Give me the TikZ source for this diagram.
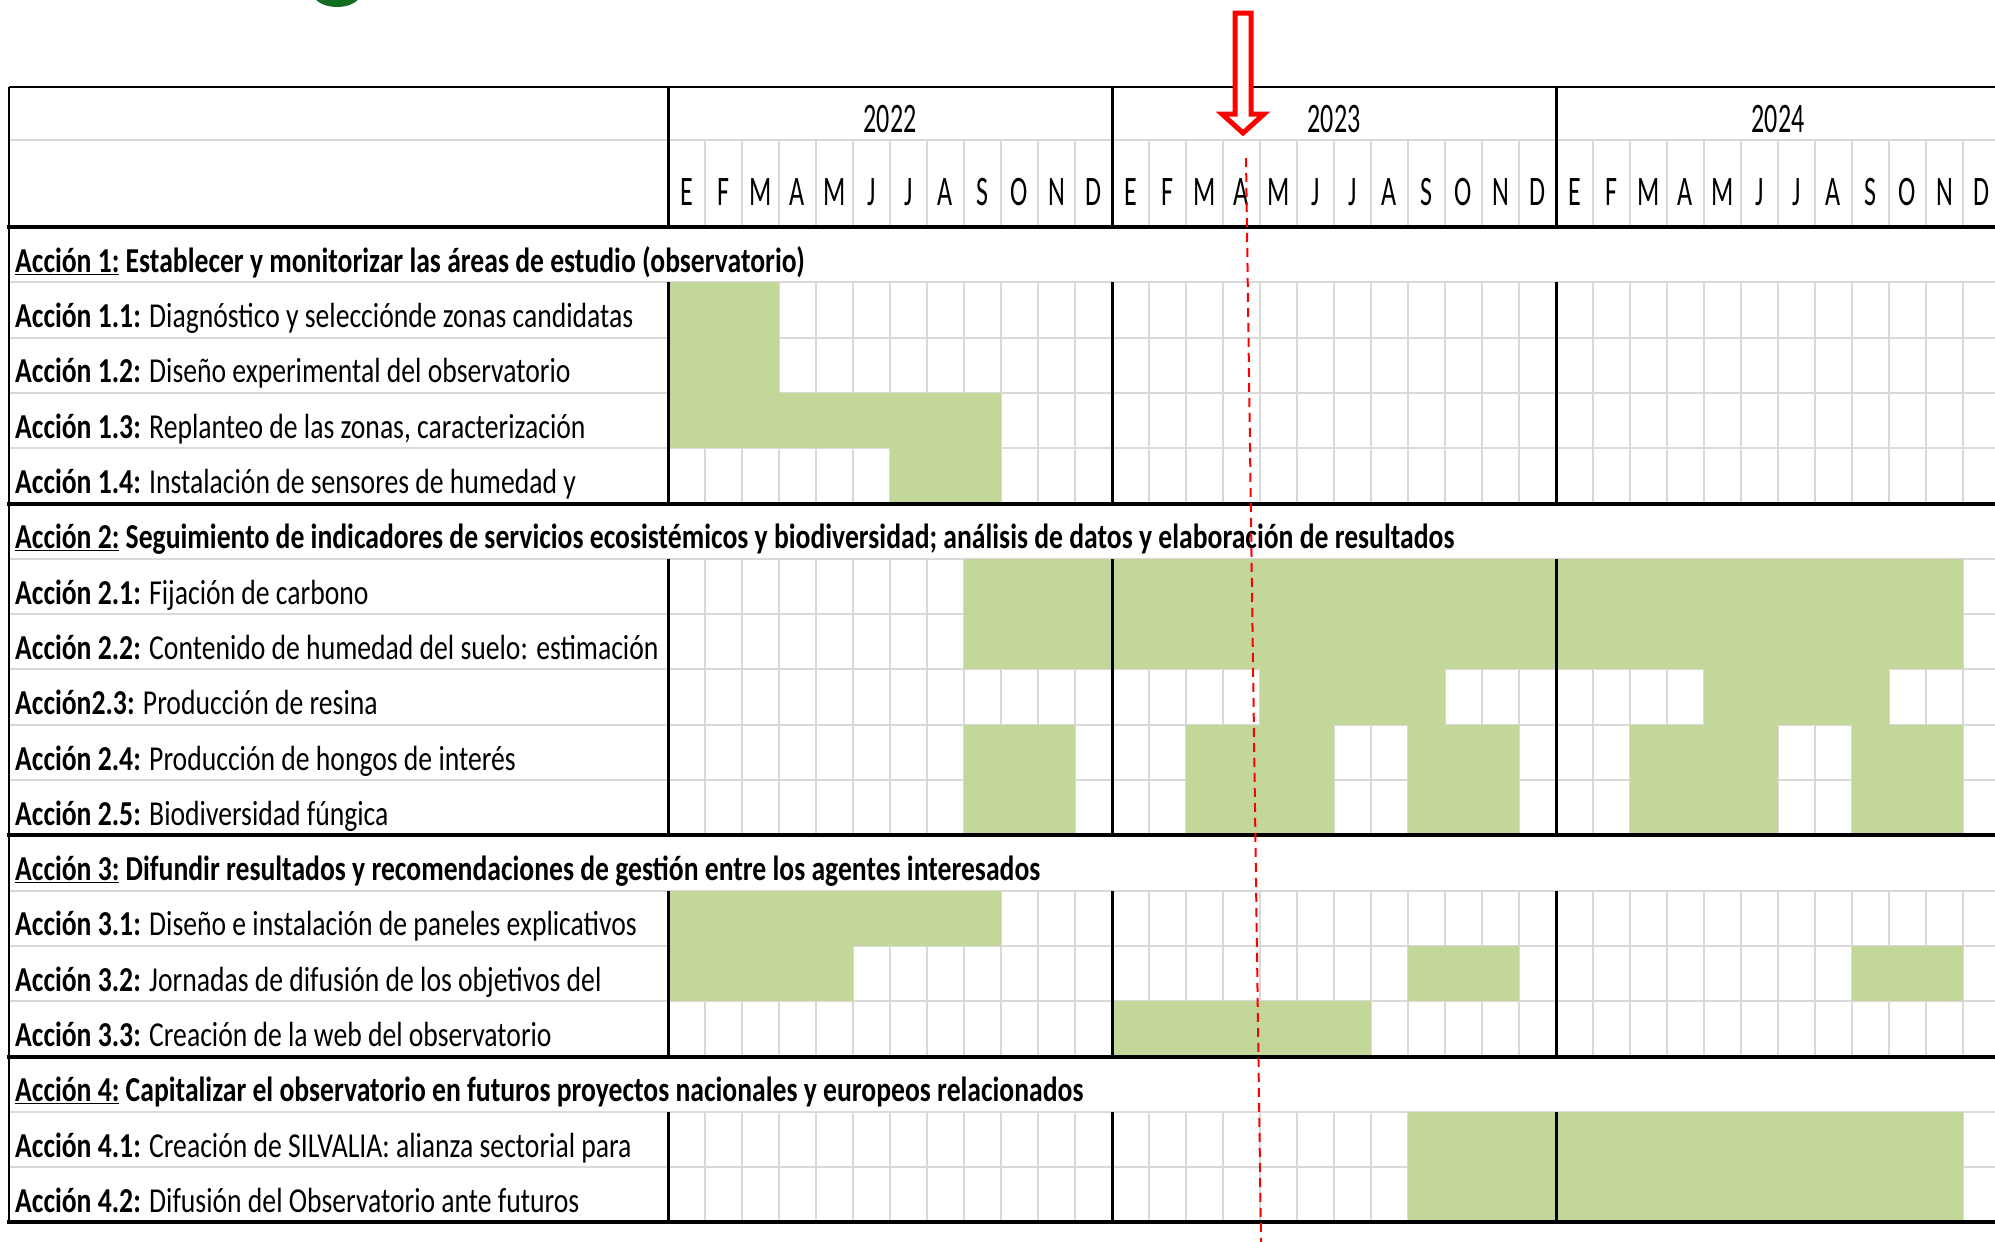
\documentclass[tikz,border=0pt]{standalone}
\usepackage{fontspec}
\setmainfont{Carlito}[FakeStretch=0.79]
\newfontfamily\hdrfont{Carlito}[FakeStretch=0.62]
\definecolor{cellgreen}{RGB}{196,215,155}
\definecolor{gridgray}{RGB}{217,217,217}
\definecolor{blobgreen}{RGB}{16,110,30}
\newcommand\lblfont{\fontsize{35}{38}\selectfont}
\newcommand\hdfont{\hdrfont\fontsize{42}{46}\selectfont}
\tikzset{
  lab/.style={anchor=base west, inner sep=0pt, font=\lblfont},
  mon/.style={anchor=base, inner sep=0pt, font=\hdfont},
  gridline/.style={gridgray, line width=2pt},
  thickline/.style={black, line width=4pt},
  yearline/.style={black, line width=3pt},
  greencell/.style={fill=cellgreen, draw=none},
  todayline/.style={red, line width=2pt, dash pattern=on 9pt off 6pt},
  todayarrow/.style={red, line width=5pt, fill=white, line join=miter}
}
\begin{document}
\begin{tikzpicture}[x=1pt,y=-1pt]
\useasboundingbox (0,0) rectangle (1995,1242);
\clip (0,0) rectangle (1995,1242);
\fill[white] (0,0) rectangle (1995,1242);
% partial logo blob
\fill[blobgreen] (337,-7) ellipse [x radius=24, y radius=14];
% gray horizontal grid lines
\draw[gridline] (9,140) -- (2000,140);
\foreach \i in {1,...,17} \draw[gridline] (9,{227+55.3*\i}) -- (2000,{227+55.3*\i});
% gray vertical grid lines (header months and task rows)
\foreach \k in {1,...,36} {
  \draw[gridline] ({668+37*\k},140) -- ({668+37*\k},227);
  \draw[gridline] ({668+37*\k},{227+55.3*1}) -- ({668+37*\k},{227+55.3*5});
  \draw[gridline] ({668+37*\k},{227+55.3*6}) -- ({668+37*\k},{227+55.3*11});
  \draw[gridline] ({668+37*\k},{227+55.3*12}) -- ({668+37*\k},{227+55.3*15});
  \draw[gridline] ({668+37*\k},{227+55.3*16}) -- ({668+37*\k},{227+55.3*18});
}
% green cells: row/first month/last month
\foreach \r/\a/\b in {1/0/2, 2/0/2, 3/0/8, 4/6/8,
  6/8/34, 7/8/34, 8/16/20, 8/28/32,
  9/8/10, 9/14/17, 9/20/22, 9/26/29, 9/32/34,
  10/8/10, 10/14/17, 10/20/22, 10/26/29, 10/32/34,
  12/0/8, 13/0/4, 13/20/22, 13/32/34, 14/12/18,
  16/20/34, 17/20/34}
  \fill[cellgreen] ({668+37*\a},{227+55.3*\r}) rectangle ({668+37*(\b+1)},{227+55.3*(\r+1)});
% black frame lines
\draw[black, line width=2.5pt] (9,87) -- (2000,87);
\draw[black, line width=2.5pt] (9,87) -- (9,{227+55.3*18});
\foreach \xx in {668,1112,1556} {
  \draw[yearline] (\xx,87) -- (\xx,227);
  \draw[yearline] (\xx,{227+55.3*1}) -- (\xx,{227+55.3*5});
  \draw[yearline] (\xx,{227+55.3*6}) -- (\xx,{227+55.3*11});
  \draw[yearline] (\xx,{227+55.3*12}) -- (\xx,{227+55.3*15});
  \draw[yearline] (\xx,{227+55.3*16}) -- (\xx,{227+55.3*18});
}
\foreach \i in {0,5,11,15,18} \draw[thickline] (7,{227+55.3*\i}) -- (2000,{227+55.3*\i});
% years
\node[mon] (y2022) at (890,132) {2022};
\node[mon] (y2023) at (1334,132) {2023};
\node[mon] (y2024) at (1778,132) {2024};
% months
\foreach \m [count=\k from 0] in {E,F,M,A,M,J,J,A,S,O,N,D,E,F,M,A,M,J,J,A,S,O,N,D,E,F,M,A,M,J,J,A,S,O,N,D}
  \node[mon] (m\k) at ({668+37*(\k+0.5)},205) {\m};
% labels
\node[lab] (l0) at (15,{227+55.3*1-10}) {\bfseries\underline{Acción 1:} Establecer y monitorizar las áreas de estudio (observatorio)};
\node[lab] (l1) at (15,{227+55.3*2-10}) {\textbf{Acción 1.1:} Diagnóstico y selecciónde zonas candidatas};
\node[lab] (l2) at (15,{227+55.3*3-10}) {\textbf{Acción 1.2:} Diseño experimental del observatorio};
\node[lab] (l3) at (15,{227+55.3*4-10}) {\textbf{Acción 1.3:} Replanteo de las zonas, caracterización};
\node[lab] (l4) at (15,{227+55.3*5-10}) {\textbf{Acción 1.4:} Instalación de sensores de humedad y};
\node[lab] (l5) at (15,{227+55.3*6-10}) {\bfseries\underline{Acción 2:} Seguimiento de indicadores de servicios ecosistémicos y biodiversidad; análisis de datos y elaboración de resultados};
\node[lab] (l6) at (15,{227+55.3*7-10}) {\textbf{Acción 2.1:} Fijación de carbono};
\node[lab] (l7) at (15,{227+55.3*8-10}) {\textbf{Acción 2.2:} Contenido de humedad del suelo: estimación};
\node[lab] (l8) at (15,{227+55.3*9-10}) {\textbf{Acción2.3:} Producción de resina};
\node[lab] (l9) at (15,{227+55.3*10-10}) {\textbf{Acción 2.4:} Producción de hongos de interés};
\node[lab] (l10) at (15,{227+55.3*11-10}) {\textbf{Acción 2.5:} Biodiversidad fúngica};
\node[lab] (l11) at (15,{227+55.3*12-10}) {\bfseries\underline{Acción 3:} Difundir resultados y recomendaciones de gestión entre los agentes interesados};
\node[lab] (l12) at (15,{227+55.3*13-10}) {\textbf{Acción 3.1:} Diseño e instalación de paneles explicativos};
\node[lab] (l13) at (15,{227+55.3*14-10}) {\textbf{Acción 3.2:} Jornadas de difusión de los objetivos del};
\node[lab] (l14) at (15,{227+55.3*15-10}) {\textbf{Acción 3.3:} Creación de la web del observatorio};
\node[lab] (l15) at (15,{227+55.3*16-10}) {\bfseries\underline{Acción 4:} Capitalizar el observatorio en futuros proyectos nacionales y europeos relacionados};
\node[lab] (l16) at (15,{227+55.3*17-10}) {\textbf{Acción 4.1:} Creación de SILVALIA: alianza sectorial para};
\node[lab] (l17) at (15,{227+55.3*18-10}) {\textbf{Acción 4.2:} Difusión del Observatorio ante futuros};
% today marker
\coordinate (dtop) at (1246,158);
\coordinate (dbot) at (1261,1242);
\draw[todayline] (dtop) -- (dbot);
\draw[todayarrow] (1235,13) -- (1251,13) -- (1251,114) -- (1264,114) -- (1243,133) -- (1222,114) -- (1235,114) -- cycle;
\end{tikzpicture}
\end{document}
